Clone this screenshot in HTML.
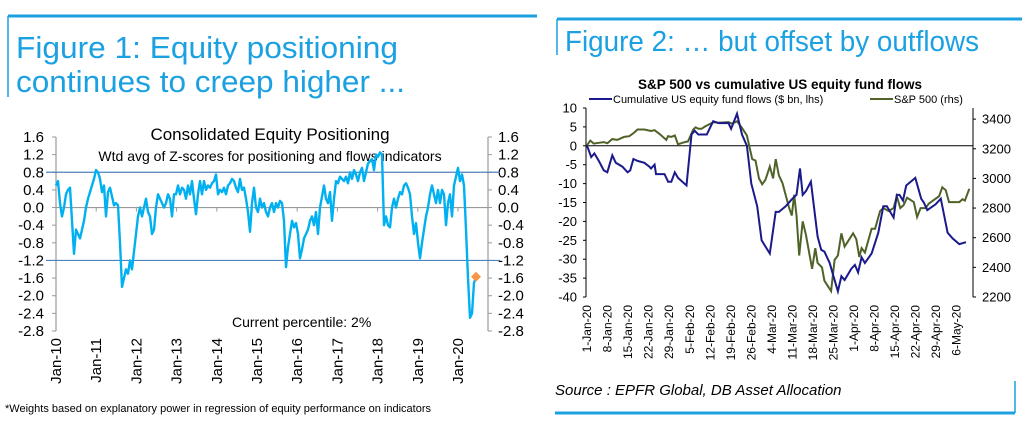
<!DOCTYPE html>
<html><head><meta charset="utf-8"><style>
html,body{margin:0;padding:0;background:#fff;width:1024px;height:422px;overflow:hidden}
svg{display:block;font-family:"Liberation Sans",Arial,sans-serif}
</style></head><body>
<svg id="s" width="1024" height="422" viewBox="0 0 1024 422" xmlns="http://www.w3.org/2000/svg">
<g>
<line x1="8" y1="16" x2="537" y2="16" stroke="#1ba1e2" stroke-width="3"/>
<line x1="8" y1="16" x2="8" y2="97" stroke="#1ba1e2" stroke-width="1.5"/>
<text x="16" y="58" font-size="31" fill="#1ba1e2" textLength="382" lengthAdjust="spacingAndGlyphs">Figure 1: Equity positioning</text>
<text x="16" y="92" font-size="31" fill="#1ba1e2" textLength="389" lengthAdjust="spacingAndGlyphs">continues to creep higher ...</text>
</g>
<g>
<line x1="557" y1="19" x2="1022" y2="19" stroke="#1ba1e2" stroke-width="3"/>
<line x1="557" y1="19" x2="557" y2="55" stroke="#1ba1e2" stroke-width="1.5"/>
<text x="565" y="51" font-size="29" fill="#1ba1e2" textLength="414" lengthAdjust="spacingAndGlyphs">Figure 2: … but offset by outflows</text>
<line x1="555" y1="413" x2="1015" y2="413" stroke="#1ba1e2" stroke-width="3"/>
<line x1="1015" y1="381" x2="1015" y2="413" stroke="#1ba1e2" stroke-width="1.5"/>
<text x="555" y="395" font-size="15" font-style="italic" fill="#000">Source : EPFR Global, DB Asset Allocation</text>
</g>
<g id="c1"></g>
<g id="c2"></g>
<text x="5" y="412" font-size="11" fill="#000">*Weights based on explanatory power in regression of equity performance on indicators</text>
</svg>
<script>
// ---- Figure 1 data ----
const f1StartYear = 2010;
const f1StepYears = 0.04975;
const f1Values = [0.5,0.6,0.1,-0.2,0.0,0.3,0.4,0.45,-0.3,-1.05,-0.5,-0.6,-0.7,-0.5,-0.3,0.0,0.2,0.35,0.5,0.65,0.85,0.8,0.65,0.35,0.5,-0.2,0.35,0.45,0.25,0.05,0.1,0.05,-0.8,-1.8,-1.6,-1.4,-1.5,-1.2,-1.4,-1.0,-0.6,-0.2,0.0,-0.2,0.0,0.2,-0.1,-0.2,-0.6,-0.5,0.0,0.3,0.2,0.1,0.0,0.1,0.3,0.2,-0.2,0.3,0.3,0.5,0.3,0.45,0.4,0.2,0.5,0.3,0.6,0.2,-0.15,0.3,0.6,0.3,0.6,0.4,0.5,0.45,0.55,0.6,0.75,0.3,0.4,0.35,0.45,0.3,0.5,0.55,0.65,0.6,0.45,0.35,0.65,0.4,0.45,0.2,-0.1,-0.55,0.1,0.45,0.0,-0.1,0.2,0.0,0.1,-0.1,-0.2,0.0,0.1,-0.1,0.1,0.0,0.15,0.1,-0.3,-1.35,-0.9,-0.6,-0.3,-0.45,-0.35,-0.6,-1.15,-0.95,-0.7,-0.6,-0.5,-0.3,-0.2,-0.4,-0.1,-0.6,0.0,0.25,0.5,0.2,0.1,0.35,-0.3,0.2,0.6,0.55,0.7,0.65,0.6,0.7,0.55,0.8,0.65,0.85,0.75,0.6,0.8,0.9,0.6,0.8,1.0,1.05,1.1,0.85,1.2,1.15,1.25,1.2,-0.4,-0.2,-0.4,-0.45,0.0,0.2,0.0,0.2,0.35,0.3,0.5,0.55,0.45,0.3,-0.2,-0.6,-0.35,-0.8,-1.15,-0.8,-0.5,-0.2,0.0,0.3,0.5,0.3,0.1,0.4,0.1,0.4,0.3,-0.4,0.1,0.3,-0.2,0.5,0.7,0.9,0.6,0.75,0.5,-0.5,-1.6,-2.5,-2.4,-1.7,-1.6];
const f1Current = -1.57;
const f1Ticks = [1.6,1.2,0.8,0.4,0.0,-0.4,-0.8,-1.2,-1.6,-2.0,-2.4,-2.8];
const f1Years = [2010,2011,2012,2013,2014,2015,2016,2017,2018,2019,2020];
const f1Bands = [0.8,-1.2];

// ---- Figure 2 data ----
const flowDays = [0,1.4,2.5,4,5.7,6.9,8.6,9.8,12,13.8,14.7,15.8,17.2,19.5,21.2,21.8,23,23.5,26.4,27.6,28.7,29.9,31,33.9,35.6,36.7,37.9,40.8,43,44.8,48.2,49.1,51.1,52.8,54.5,56,58,59.5,61.1,62.3,64.3,65.4,67.7,70,71.4,72.6,73.5,74.6,76.3,78.6,79.8,80.9,82.7,83.8,85.5,86.7,87.8,90.1,91.3,92.4,93.6,94.7,97,99.3,101,102.2,104.5,105.6,106.5,107.7,108.8,111.9,113.9,114.8,116,118.8,120.6,122.9,124.6,126.9,129.2];
const flowValues = [0,-3,-2,-4,-6.5,-7,-2.5,-4.5,-5.5,-7,-6.5,-3.5,-4,-4.5,-5.5,-6,-5,-7.5,-7.5,-9.5,-9.5,-7,-8.5,-10.5,3,4,3,3,6.5,6,6,4.5,8.5,3,0,-10,-16,-25,-27,-28.5,-17.5,-17.5,-16,-14,-13,-6,-13,-12,-9.5,-24,-27.5,-28,-31,-34,-38.5,-34.5,-35.5,-32.5,-31.5,-33.5,-29.5,-31,-28.5,-23,-16,-16,-19,-13,-13,-14.5,-10.5,-8.5,-14,-15,-17,-15.5,-14,-23,-24.5,-26,-25.5];
const spxDays = [0,1.1,2.3,4,5.7,6.9,8.6,10.3,12.6,14.4,16.1,17.2,19.5,21.8,23,24.7,27,27.6,28.7,29.9,31,33.3,34.4,36.2,37,37.9,39,40.2,43.1,44.8,48.2,49.4,51.1,52.8,54.5,56.3,57.4,58.6,59.7,60.8,62.3,63.4,64.3,65.4,66.6,68.9,69.8,70.6,71.4,72.3,73.5,74.6,76.7,77.8,78.6,80.1,80.9,83.2,84.4,85.5,86.7,87.8,90.7,91.8,92.8,93.6,94.7,97,98.2,99.9,101,102.8,104.5,105.6,106.8,107.9,109.1,111.4,112.5,113.7,115.4,116.5,120,121.1,122.3,123.4,126.9,128,128.8,130.3];
const spxValues = [3225,3255,3235,3240,3245,3237,3265,3260,3280,3285,3310,3330,3330,3320,3325,3300,3260,3285,3280,3290,3230,3245,3250,3330,3345,3335,3335,3350,3380,3375,3380,3370,3385,3340,3290,3130,3120,3000,2960,2990,3080,3000,3130,3020,2970,2800,2750,2890,2750,2480,2710,2620,2390,2530,2430,2400,2310,2240,2450,2480,2630,2540,2630,2590,2470,2530,2500,2660,2660,2780,2800,2780,2800,2880,2800,2820,2870,2840,2740,2800,2800,2830,2880,2940,2920,2840,2840,2860,2850,2930];
const f2LeftTicks = [10,5,0,-5,-10,-15,-20,-25,-30,-35,-40];
const f2RightTicks = [3400,3200,3000,2800,2600,2400,2200];
const f2Labels = ['1-Jan-20','8-Jan-20','15-Jan-20','22-Jan-20','29-Jan-20','5-Feb-20','12-Feb-20','19-Feb-20','26-Feb-20','4-Mar-20','11-Mar-20','18-Mar-20','25-Mar-20','1-Apr-20','8-Apr-20','15-Apr-20','22-Apr-20','29-Apr-20','6-May-20'];

const NS='http://www.w3.org/2000/svg';
function mk(parent,tag,attrs,text){const e=document.createElementNS(NS,tag);for(const k in attrs)e.setAttribute(k,attrs[k]);if(text!==undefined)e.textContent=text;parent.appendChild(e);return e;}

// ---- Figure 1 ----
(function(){
const g=document.getElementById('c1');
const L=56,R=488,T=137,B=331;
const y=v=>T+(1.6-v)/4.4*(B-T);
const x=yr=>L+(yr-2010)*40.2;
let e=mk(g,'text',{x:270,y:140,'font-size':17,'text-anchor':'middle',fill:'#000'},'Consolidated Equity Positioning');


e=mk(g,'text',{x:270,y:161,'font-size':14,'text-anchor':'middle',fill:'#000'},'Wtd avg of Z-scores for positioning and flows indicators');


e=mk(g,'line',{x1:L,y1:T,x2:L,y2:B,stroke:'#999','stroke-width':1.2});


e=mk(g,'line',{x1:R,y1:T,x2:R,y2:B,stroke:'#999','stroke-width':1.2});


f1Ticks.forEach(t=>{
 mk(g,'line',{x1:L-4,y1:y(t),x2:L,y2:y(t),stroke:'#999'});
 mk(g,'line',{x1:R,y1:y(t),x2:R+4,y2:y(t),stroke:'#999'});
 let a=mk(g,'text',{x:L-12,y:y(t)+5,'font-size':15,'text-anchor':'end',fill:'#000'},t.toFixed(1));
 
 
 let b=mk(g,'text',{x:R+10,y:y(t)+5,'font-size':15,fill:'#000'},t.toFixed(1));
 
 
});
e=mk(g,'line',{x1:L,y1:y(0),x2:R,y2:y(0),stroke:'#999','stroke-width':1.2});


f1Years.forEach(yr=>{
 mk(g,'line',{x1:x(yr),y1:y(0),x2:x(yr),y2:y(0)+4,stroke:'#999'});
 let a=mk(g,'text',{x:0,y:0,'font-size':15,'text-anchor':'end',fill:'#000',transform:`translate(${x(yr)+5},338) rotate(-90)`},'Jan-'+String(yr).slice(2));
 
 
});
f1Bands.forEach(b=>{
 let a=mk(g,'line',{x1:46,y1:y(b),x2:500,y2:y(b),stroke:'#4f81bd','stroke-width':1.2});
 
 
});
const pts=f1Values.map((v,i)=>x(f1StartYear+i*f1StepYears).toFixed(1)+','+y(v).toFixed(1)).join(' ');
e=mk(g,'polyline',{points:pts,fill:'none',stroke:'#00b0f0','stroke-width':2.4,'stroke-linejoin':'round'});


const lx=x(f1StartYear+(f1Values.length-1)*f1StepYears), ly=y(f1Current);
e=mk(g,'polygon',{points:`${lx},${ly-5} ${lx+5},${ly} ${lx},${ly+5} ${lx-5},${ly}`,fill:'#f79646'});


e=mk(g,'text',{x:232,y:327,'font-size':14,fill:'#000'},'Current percentile: 2%');


})();

// ---- Figure 2 ----
(function(){
const g=document.getElementById('c2');
const L=586,R=973,T=108,B=297;
const yl=v=>T+(10-v)/50*(B-T);
const yr=v=>T+ (3475-v)/1275*(B-T);
const x=d=>587.1+d*2.933;
let e=mk(g,'text',{x:780,y:89,'font-size':13.5,'font-weight':'bold','text-anchor':'middle',fill:'#000'},'S&P 500 vs cumulative US equity fund flows');


mk(g,'line',{x1:589,y1:99,x2:612,y2:99,stroke:'#1a1a8c','stroke-width':2});
e=mk(g,'text',{x:613,y:103,'font-size':11,fill:'#000'},'Cumulative US equity fund flows ($ bn, lhs)');


mk(g,'line',{x1:870,y1:99,x2:893,y2:99,stroke:'#4f6228','stroke-width':2});
e=mk(g,'text',{x:894,y:103,'font-size':11,fill:'#000'},'S&P 500 (rhs)');


e=mk(g,'line',{x1:L,y1:T,x2:L,y2:B,stroke:'#000','stroke-width':1});


e=mk(g,'line',{x1:R,y1:T,x2:R,y2:B,stroke:'#000','stroke-width':1});


f2LeftTicks.forEach(t=>{
 mk(g,'line',{x1:L-3,y1:yl(t),x2:L,y2:yl(t),stroke:'#000'});
 let a=mk(g,'text',{x:L-9,y:yl(t)+4.5,'font-size':13,'text-anchor':'end',fill:'#000'},String(t));
 
 
});
f2RightTicks.forEach(t=>{
 mk(g,'line',{x1:R,y1:yr(t),x2:R+3,y2:yr(t),stroke:'#000'});
 let a=mk(g,'text',{x:R+9,y:yr(t)+4.5,'font-size':13,fill:'#000'},String(t));
 
 
});
e=mk(g,'line',{x1:L,y1:yl(0),x2:R,y2:yl(0),stroke:'#000','stroke-width':1});


f2Labels.forEach((s,i)=>{
 let a=mk(g,'text',{x:0,y:0,'font-size':12,'text-anchor':'end',fill:'#000',transform:`translate(${x(i*7)+4},305) rotate(-90)`},s);
 
 
});
e=mk(g,'polyline',{points:spxDays.map((d,i)=>x(d).toFixed(1)+','+yr(spxValues[i]).toFixed(1)).join(' '),fill:'none',stroke:'#4f6228','stroke-width':2});


e=mk(g,'polyline',{points:flowDays.map((d,i)=>x(d).toFixed(1)+','+yl(flowValues[i]).toFixed(1)).join(' '),fill:'none',stroke:'#1a1a8c','stroke-width':2});


})();
</script>
</body></html>
